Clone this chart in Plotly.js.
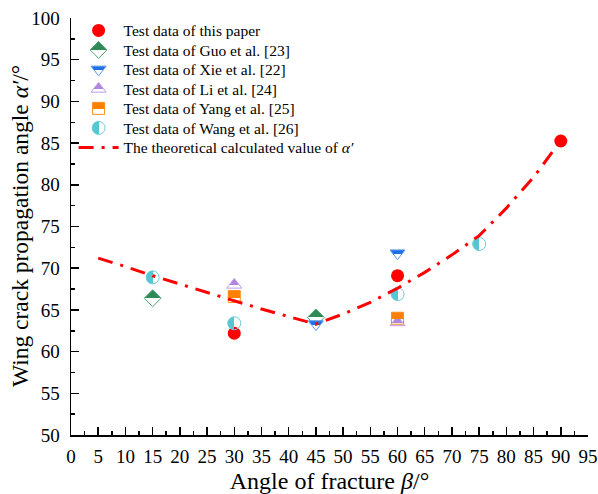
<!DOCTYPE html>
<html>
<head>
<meta charset="utf-8">
<script src="https://cdn.plot.ly/plotly-3.0.1.min.js"></script>
<style>html,body{margin:0;padding:0;background:#fff;}#chart{width:598px;height:494px;}</style>
</head>
<body>
<div id="chart"></div>
<script>
// ---- data ----
const thisPaperX = [30, 60, 90];
const thisPaperY = [62.2, 69.1, 85.25];
const guoX = [15, 45];
const guoY = [66.4, 64.1];
const xieX = [45, 60];
const xieY = [63.3, 71.8];
const liX = [30, 60];
const liY = [68.0, 63.5];
const yangX = [30, 60];
const yangY = [66.6, 64.0];
const wangX = [15, 30, 60, 75];
const wangY = [68.9, 63.4, 66.9, 72.9];
const theoryX = [5, 10, 15, 20, 25, 30, 35, 40, 45, 50, 55, 60, 65, 70, 75, 80, 85, 90];
const theoryY = [71.2, 70.2, 69.1, 68.1, 67.1, 66.1, 65.1, 64.2, 63.3, 64.5, 65.9, 67.6, 69.5, 71.6, 73.9, 77.2, 80.9, 85.3];
const names = [
  'Test data of this paper',
  'Test data of Guo et al. [23]',
  'Test data of Xie et al. [22]',
  'Test data of Li et al. [24]',
  'Test data of Yang et al. [25]',
  'Test data of Wang et al. [26]',
  'The theoretical calculated value of <i>α′</i>'
];

const FONT = '"Liberation Serif", "Times New Roman", serif';
// fraction of marker filled (from top, or from left for horizontal)
const fillFrac = {
  '46,139,87': 0.5,
  '31,111,230': 0.38,
  '176,134,222': 0.68,
  '255,128,0': 0.58,
  '86,199,210': 0.5
};

function halfMarker(color, line, symbol, size, grad) {
  return {color: color, size: size, symbol: symbol,
          line: {color: line, width: 1},
          gradient: {type: grad, color: '#ffffff'}};
}

const data = [
  {x: thisPaperX, y: thisPaperY, name: names[0], type: 'scatter', mode: 'markers',
   marker: {color: '#ff0000', size: 13, symbol: 'circle', line: {width: 0}}},
  {x: guoX, y: guoY, name: names[1], type: 'scatter', mode: 'markers',
   marker: halfMarker('rgb(46,139,87)', 'rgb(80,165,115)', 'diamond', 13, 'vertical')},
  {x: xieX, y: xieY, name: names[2], type: 'scatter', mode: 'markers',
   marker: halfMarker('rgb(31,111,230)', 'rgb(90,150,235)', 'triangle-down', 13, 'vertical')},
  {x: liX, y: liY, name: names[3], type: 'scatter', mode: 'markers',
   marker: halfMarker('rgb(176,134,222)', 'rgb(190,155,230)', 'triangle-up', 13, 'vertical')},
  {x: yangX, y: yangY, name: names[4], type: 'scatter', mode: 'markers',
   marker: halfMarker('rgb(255,128,0)', 'rgb(255,140,30)', 'square', 12, 'vertical')},
  {x: wangX, y: wangY, name: names[5], type: 'scatter', mode: 'markers',
   marker: halfMarker('rgb(86,199,210)', 'rgb(110,205,215)', 'circle', 13, 'horizontal')},
  {x: theoryX, y: theoryY, name: names[6], type: 'scatter', mode: 'lines',
   line: {color: '#ff0000', width: 3, dash: '15px,8px,3px,8px'}}
];

const axisCommon = {
  showgrid: false, zeroline: false, showline: true, linecolor: '#000', linewidth: 1.5,
  ticks: 'inside', ticklen: 8, tickwidth: 1.5, tickcolor: '#000', dtick: 5,
  tickfont: {family: FONT, size: 19, color: '#000'},
  minor: {dtick: 2.5, ticks: 'inside', ticklen: 4, tickwidth: 1.5, tickcolor: '#000', showgrid: false}
};

const layout = {
  width: 598, height: 494,
  margin: {l: 71, r: 10, t: 18, b: 59},
  paper_bgcolor: '#fff', plot_bgcolor: '#fff',
  showlegend: true,
  legend: {x: 0.005, y: 1.01, xanchor: 'left', yanchor: 'top', bgcolor: 'rgba(0,0,0,0)',
           itemwidth: 40,
           font: {family: FONT, size: 15.5, color: '#000'}, tracegroupgap: 0},
  xaxis: Object.assign({}, axisCommon, {
    range: [0, 95], tick0: 0, ticklabelstandoff: 4,
    title: {text: 'Angle of fracture <i>β</i>/°', font: {family: FONT, size: 24, color: '#000'}}
  }),
  yaxis: Object.assign({}, axisCommon, {
    range: [50, 100], tick0: 50, ticklabelstandoff: 6,
    title: {text: 'Wing crack propagation angle <i>α′</i>/°', font: {family: FONT, size: 23.5, color: '#000'}}
  })
};

function rgbKey(c) {
  if (!c) return null;
  c = c.trim();
  let m = c.match(/rgba?\(([^)]+)\)/);
  if (m) { return m[1].split(',').slice(0, 3).map(v => Math.round(parseFloat(v))).join(','); }
  if (c[0] === '#') {
    let h = c.slice(1);
    if (h.length === 3) h = h.split('').map(x => x + x).join('');
    return [0, 2, 4].map(i => parseInt(h.substr(i, 2), 16)).join(',');
  }
  return c;
}

// make the gradient a hard split: coloured part + transparent (open) part
function sharpen(gd) {
  const NS = 'http://www.w3.org/2000/svg';
  gd.querySelectorAll('linearGradient').forEach(g => {
    const stops = Array.from(g.querySelectorAll('stop'));
    let col = null;
    stops.forEach(s => {
      const c = s.getAttribute('stop-color') || s.style.stopColor;
      const k = rgbKey(c);
      if (k && k !== '255,255,255') { col = c; }
    });
    if (!col) return;
    const f = fillFrac[rgbKey(col)] !== undefined ? fillFrac[rgbKey(col)] : 0.5;
    stops.forEach(s => s.remove());
    const o = (1 - f);
    [[0, '#ffffff', 0], [o, '#ffffff', 0], [o, col, 1], [1, col, 1]].forEach(([off, c, a]) => {
      const s = document.createElementNS(NS, 'stop');
      s.setAttribute('offset', (off * 100).toFixed(2) + '%');
      s.setAttribute('stop-color', c);
      s.setAttribute('stop-opacity', String(a));
      g.appendChild(s);
    });
  });
}

// tighten legend row spacing to match the reference
function tightenLegend(gd, step) {
  const items = Array.from(gd.querySelectorAll('.legend .traces'));
  if (!items.length) return;
  const parse = t => { const m = /translate\(\s*([-\d.]+)[ ,]+([-\d.]+)/.exec(t || ''); return m ? [parseFloat(m[1]), parseFloat(m[2])] : [0, 0]; };
  const first = parse(items[0].getAttribute('transform'));
  items.forEach((it, i) => {
    const p = parse(it.getAttribute('transform'));
    it.setAttribute('transform', 'translate(' + p[0] + ',' + (first[1] + i * step) + ')');
  });
}

// place the y-axis title centred where the reference has it
function placeYTitle(gd, cx, cy) {
  const t = gd.querySelector('.ytitle');
  if (!t) return;
  const host = gd.getBoundingClientRect();
  const r = t.getBoundingClientRect();
  const dx = cx - (r.left - host.left + r.width / 2);
  const dy = cy - (r.top - host.top + r.height / 2);
  const g = document.createElementNS('http://www.w3.org/2000/svg', 'g');
  t.parentNode.insertBefore(g, t);
  g.appendChild(t);
  g.setAttribute('transform', 'translate(' + dx.toFixed(1) + ',' + dy.toFixed(1) + ')');
}

const gd = document.getElementById('chart');
Plotly.newPlot(gd, data, layout, {staticPlot: true, displayModeBar: false}).then(() => {
  sharpen(gd);
  tightenLegend(gd, 19.5);
  placeYTitle(gd, 20, 226);
});
</script>
</body>
</html>
